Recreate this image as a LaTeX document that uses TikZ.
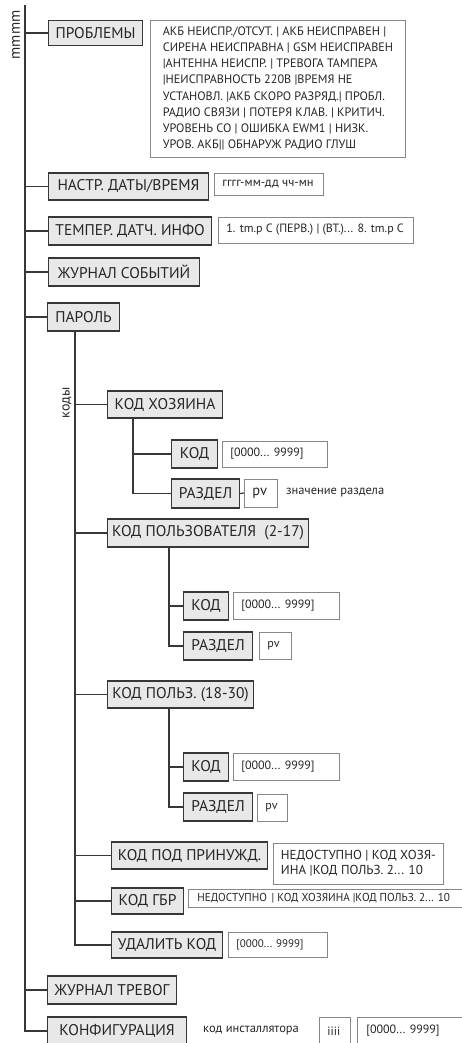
\documentclass[tikz,border=0pt]{standalone}
\usepackage{fontspec}
\setmainfont{PT Sans}
\usepackage{graphicx}
\usetikzlibrary{positioning,calc}

\definecolor{boxgray}{RGB}{232,232,232}
\definecolor{linegray}{RGB}{55,55,55}
\definecolor{framegray}{RGB}{135,135,135}
\newcommand\fixw[2]{\makebox[#1][l]{#2}}

\tikzset{
  menu/.style={draw=linegray, fill=boxgray, line width=1.1pt, anchor=west, inner sep=0pt,
    minimum height=28pt, text=black!85, font=\fontsize{15.5}{17}\selectfont},
  val/.style={draw=framegray, fill=white, line width=0.9pt, anchor=west, inner xsep=8pt,
    inner ysep=0pt, minimum height=26pt, text=black!85, font=\fontsize{12}{13}\selectfont},
  note/.style={anchor=west, inner sep=0pt, text=black!85, font=\fontsize{12.5}{13}\selectfont},
  link/.style={draw=linegray, line width=1.2pt},
}

\begin{document}
\begin{tikzpicture}[x=1pt,y=-1pt]
  \useasboundingbox (0,0) rectangle (462,1043);

  % main menu
  \node[rotate=90, text=black!85, font=\fontsize{15}{15}\selectfont] (title) at (16,35) {mmmm};
  \node[menu, minimum width=94pt, minimum height=25pt] (prob) at (48,33) {ПРОБЛЕМЫ};
  \node[menu, minimum width=160pt, minimum height=27pt] (date) at (48,186.5) {НАСТР. ДАТЫ/ВРЕМЯ};
  \node[menu, minimum width=163pt] (temp) at (48,231) {ТЕМПЕР. ДАТЧ. ИНФО};
  \node[menu, minimum width=151pt] (evlog) at (48,272) {ЖУРНАЛ СОБЫТИЙ};
  \node[menu, minimum width=72pt] (pass) at (47,317) {ПАРОЛЬ};
  \node[menu, minimum width=129pt] (alarm) at (47,990) {ЖУРНАЛ ТРЕВОГ};
  \node[menu, minimum width=139pt] (config) at (47,1031) {КОНФИГУРАЦИЯ};

  % values of the main menu
  \node[val, inner xsep=0pt, minimum width=255pt, minimum height=137pt, align=left,
    font=\fontsize{12.2}{16.2}\selectfont] (problist) at (150,88.5)
    {АКБ НЕИСПР./ОТСУТ. | АКБ НЕИСПРАВЕН |\\
     СИРЕНА НЕИСПРАВНА | GSM НЕИСПРАВЕН\\
     |АНТЕННА НЕИСПР. | ТРЕВОГА ТАМПЕРА\\
     |НЕИСПРАВНОСТЬ 220В |ВРЕМЯ НЕ\\
     УСТАНОВЛ. |АКБ СКОРО РАЗРЯД.| ПРОБЛ.\\
     РАДИО СВЯЗИ | ПОТЕРЯ КЛАВ. | КРИТИЧ.\\
     УРОВЕНЬ СО | ОШИБКА EWM1 | НИЗК.\\
     УРОВ. АКБ|| ОБНАРУЖ РАДИО ГЛУШ};
  \node[val, minimum height=22pt, font=\fontsize{12.5}{13}\selectfont] (dateval) at (214,184) {\fixw{93pt}{гггг-мм-дд чч-мн}};
  \node[val] (tempval) at (218,230) {\fixw{179pt}{1. tm.p C (ПЕРВ.) | (ВТ.)... 8. tm.p C}};
  \node[note] (instlabel) at (203,1031) {код инсталлятора};
  \node[val, minimum height=28pt] (instval) at (319,1031) {\fixw{15pt}{iiii}};
  \node[val, minimum height=28pt, inner xsep=9pt] (cfgval) at (357,1031) {\fixw{120pt}{[0000... 9999]}};

  % codes
  \node[rotate=90, text=black!85, font=\fontsize{14}{14}\selectfont] (codes) at (67,403) {коды};
  \node[menu, minimum width=115pt, minimum height=27pt] (master) at (107,404.5) {КОД ХОЗЯИНА};
  \node[menu, minimum width=46pt] (mcode) at (171,454) {КОД};
  \node[menu, minimum width=68pt, minimum height=29pt] (mpart) at (171,493.5) {РАЗДЕЛ};
  \node[val] (mcodeval) at (222,454) {\fixw{89pt}{[0000... 9999]}};
  \node[val, minimum height=28pt, font=\fontsize{14.5}{16}\selectfont] (mpartval) at (244,493) {\fixw{17pt}{pv}};
  \node[note] (parthint) at (286,493) {значение раздела};

  \node[menu, minimum width=201pt] (user) at (107,533) {КОД ПОЛЬЗОВАТЕЛЯ~~(2-17)};
  \node[menu, minimum width=45pt] (ucode) at (183,606) {КОД};
  \node[menu, minimum width=69pt] (upart) at (183,646) {РАЗДЕЛ};
  \node[val, minimum height=27pt] (ucodeval) at (233,605.5) {\fixw{90pt}{[0000... 9999]}};
  \node[val, minimum height=27pt] (upartval) at (259,645.5) {\fixw{16pt}{pv}};

  \node[menu, minimum width=146pt, minimum height=27pt] (user2) at (107,694.5) {КОД ПОЛЬЗ. (18-30)};
  \node[menu, minimum width=45pt] (u2code) at (183,767) {КОД};
  \node[menu, minimum width=69pt] (u2part) at (183,807) {РАЗДЕЛ};
  \node[val, minimum height=27pt] (u2codeval) at (233,766.5) {\fixw{90pt}{[0000... 9999]}};
  \node[val, minimum height=27pt] (u2partval) at (257,807.5) {\fixw{14pt}{pv}};

  \node[menu, minimum width=156pt, minimum height=27pt] (duress) at (111,855.5) {КОД ПОД ПРИНУЖД.};
  \node[val, inner xsep=0pt, minimum width=170pt, minimum height=41pt, align=left,
    font=\fontsize{13}{15}\selectfont] (duressval) at (273,863.5)
    {НЕДОСТУПНО | КОД ХОЗЯ-\\ИНА |КОД ПОЛЬЗ. 2... 10};
  \node[menu, minimum width=72pt, minimum height=26pt] (gbr) at (111,901) {КОД ГБР};
  \node[val, minimum height=18pt, inner xsep=9pt, font=\fontsize{11.5}{12}\selectfont] (gbrval) at (188,898)
    {\fixw{280pt}{\scalebox{0.97}[1]{НЕДОСТУПНО \,| КОД ХОЗЯИНА |КОД ПОЛЬЗ. 2... 10}}};
  \node[menu, minimum width=111pt, minimum height=26pt] (del) at (111,945) {УДАЛИТЬ КОД};
  \node[val, minimum height=25pt, font=\fontsize{11}{12}\selectfont] (delval) at (228,944.5) {\fixw{83pt}{[0000... 9999]}};

  % connectors
  \coordinate (trunk) at (25,5);
  \draw[link] (trunk) |- (config.west);
  \foreach \n in {prob,date,temp,evlog,pass,alarm} {\draw[link] (\n.west) -- (\n.west -| trunk);}
  \coordinate (ptrunk) at ($(pass.south west)+(28,0)$);
  \draw[link] (ptrunk) |- (del.west);
  \foreach \n in {master,user,user2,duress,gbr} {\draw[link] (\n.west) -- (\n.west -| ptrunk);}
  \coordinate (mtrunk) at ($(master.south west)+(26,0)$);
  \draw[link] (mtrunk) |- (mpart.west);
  \draw[link] (mcode.west) -- (mcode.west -| mtrunk);
  \draw[link] (mpart.east) -- (mpartval.west);
  \coordinate (utrunk) at ($(user.south west)+(62,0)$);
  \draw[link] (utrunk) |- (upart.west);
  \draw[link] (ucode.west) -- (ucode.west -| utrunk);
  \coordinate (u2trunk) at ($(user2.south west)+(62,0)$);
  \draw[link] (u2trunk) |- (u2part.west);
  \draw[link] (u2code.west) -- (u2code.west -| u2trunk);
\end{tikzpicture}
\end{document}
